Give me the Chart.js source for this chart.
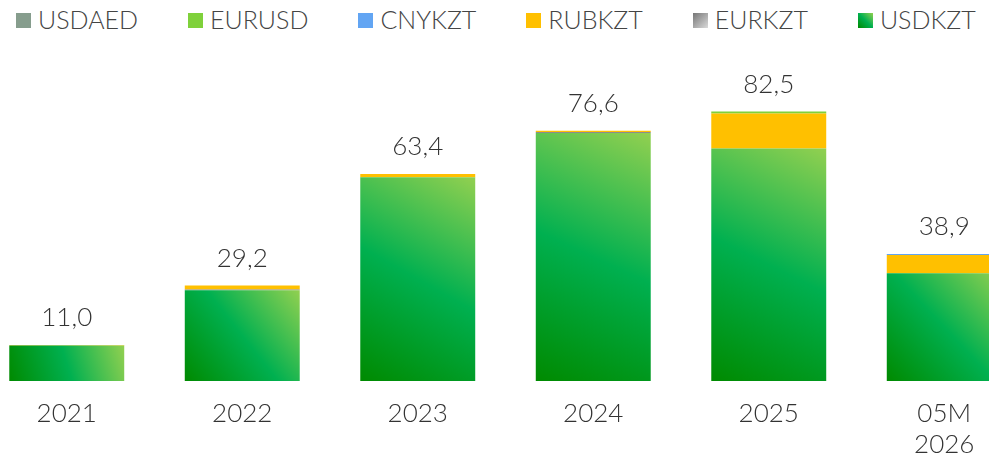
<!DOCTYPE html>
<html>
<head>
<meta charset="utf-8">
<script src="https://cdn.jsdelivr.net/npm/chart.js@4.4.1/dist/chart.umd.min.js"></script>
<style>
  html, body { margin: 0; padding: 0; background: #fff; overflow: hidden; }
  body { width: 989px; height: 459px; position: relative; }
  #barCanvas { position: absolute; left: -21px; top: 0; }
  #legend {
    position: absolute; left: 16px; top: 4px;
    display: flex; gap: 50px;
    font-family: Lato, "Open Sans", sans-serif; font-weight: 300;
    font-size: 25px; line-height: 30px; color: #444;
  }
  #legend .item { display: flex; align-items: center; white-space: nowrap; }
  #legend .box { width: 15px; height: 15px; margin-right: 7px; margin-top: 2px; }
</style>
</head>
<body>
<div id="legend"></div>
<canvas id="barCanvas" width="1053" height="459"></canvas>
<script>
// volumes by year, stacked by currency pair (bottom to top)
var years = ["2021", "2022", "2023", "2024", "2025", ["05M", "2026"]];
var usdkzt = [10.9, 27.8, 62.4, 75.9, 71.2, 33.0];
var eurkzt = [0, 0.2, 0, 0.3, 0, 0];
var rubkzt = [0.1, 1.2, 1.0, 0.4, 10.7, 5.6];
var cnykzt = [0, 0, 0, 0, 0, 0.3];
var eurusd = [0, 0, 0, 0, 0.6, 0];
var usdaed = [0, 0, 0, 0, 0, 0];

var BAR_PCT = 0.655;
var FONT = "Lato, 'Open Sans', sans-serif";

// diagonal green gradient across each USDKZT bar
function greenBar(c) {
  var chart = c.chart, x = chart.scales.x, y = chart.scales.y;
  if (!x || !y || c.type !== "data" || !x.width) return "#00b050";
  var cx = x.getPixelForValue(c.dataIndex);
  var half = x.width / years.length * BAR_PCT / 2;
  var top = y.getPixelForValue(c.raw), bottom = y.getPixelForValue(0);
  var g = chart.ctx.createLinearGradient(cx - half, bottom, cx + half, top);
  g.addColorStop(0, "#008a00");
  g.addColorStop(0.5, "#00b050");
  g.addColorStop(1, "#92d050");
  return g;
}

// totals above each stack, decimal comma
var totalsPlugin = {
  id: "totals",
  afterDatasetsDraw: function (chart) {
    var ctx = chart.ctx, x = chart.scales.x, y = chart.scales.y;
    ctx.save();
    ctx.font = "300 26px " + FONT;
    ctx.fillStyle = "#333";
    ctx.textAlign = "center";
    ctx.textBaseline = "alphabetic";
    years.forEach(function (yr, i) {
      var total = 0;
      chart.data.datasets.forEach(function (ds) { total += ds.data[i]; });
      ctx.fillText(total.toFixed(1).replace(".", ","), x.getPixelForValue(i), y.getPixelForValue(total) - 19);
    });
    ctx.restore();
  }
};

// html legend, same order as the original report (top of stack first)
var legendPlugin = {
  id: "htmlLegend",
  afterUpdate: function (chart) {
    var box = document.getElementById("legend");
    box.innerHTML = "";
    chart.data.datasets.slice().reverse().forEach(function (ds) {
      var item = document.createElement("div");
      item.className = "item";
      var sw = document.createElement("span");
      sw.className = "box";
      sw.style.background = ds.legendFill || ds.backgroundColor;
      var txt = document.createElement("span");
      txt.textContent = ds.label;
      item.appendChild(sw);
      item.appendChild(txt);
      box.appendChild(item);
    });
  }
};

var ctx = document.getElementById("barCanvas");
var chart = new Chart(ctx, {
  type: "bar",
  data: {
    labels: years,
    datasets: [
      { label: "USDKZT", data: usdkzt, backgroundColor: greenBar,
        legendFill: "linear-gradient(45deg, #008a00, #00b050, #92d050)" },
      { label: "EURKZT", data: eurkzt, backgroundColor: "#8c8c8c",
        legendFill: "linear-gradient(135deg, #767676, #dadada)" },
      { label: "RUBKZT", data: rubkzt, backgroundColor: "#ffc000" },
      { label: "CNYKZT", data: cnykzt, backgroundColor: "#62a5f3" },
      { label: "EURUSD", data: eurusd, backgroundColor: "#7fd13b" },
      { label: "USDAED", data: usdaed, backgroundColor: "#869d8d" }
    ]
  },
  options: {
    responsive: false,
    animation: false,
    layout: { padding: { top: 87, left: 0, right: 0, bottom: 0 } },
    datasets: { bar: { barPercentage: BAR_PCT, categoryPercentage: 1, borderWidth: 0 } },
    plugins: { legend: { display: false }, tooltip: { enabled: false } },
    scales: {
      x: {
        stacked: true,
        grid: { display: false, drawTicks: false },
        border: { display: false },
        ticks: { padding: 17, color: "#333", maxRotation: 0, autoSkip: false,
                 font: { family: FONT, size: 26, weight: 300, lineHeight: 1.2 } },
        afterFit: function (s) { s.height = 78; }
      },
      y: {
        stacked: true,
        display: false,
        min: 0,
        max: 90
      }
    }
  },
  plugins: [totalsPlugin, legendPlugin]
});
</script>
</body>
</html>
